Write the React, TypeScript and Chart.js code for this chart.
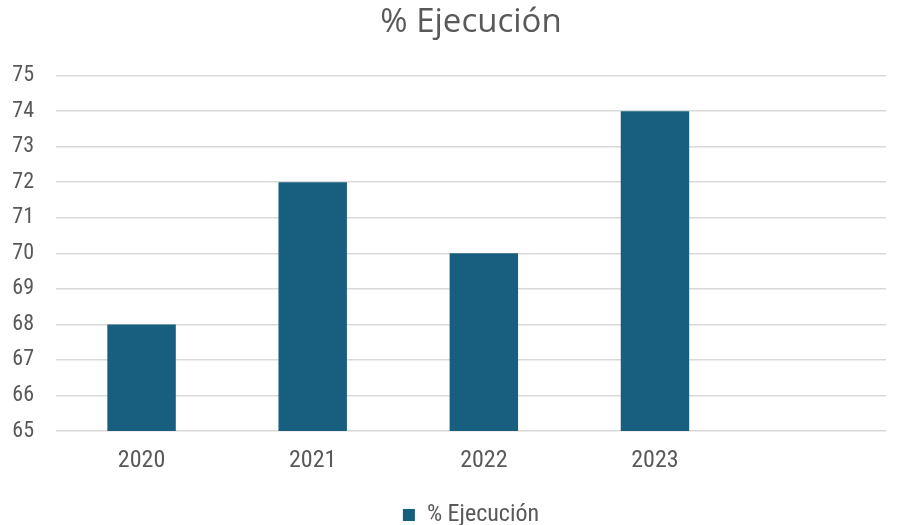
import React, { useEffect, useRef } from "react";
import { Chart, registerables } from "chart.js";

Chart.register(...registerables);

const categories: number[] = [2020, 2021, 2022, 2023];
const ejecucion: number[] = [68, 72, 70, 74];
const seriesName = "% Ejecución";
const titleText = "% Ejecución";
const yMin = 65;
const yMax = 75;
const xMin = 2019.5;
const xMax = 2024.35;

const FONT = "'Roboto Condensed', 'Liberation Sans', sans-serif";
const TITLE_FONT = "'Open Sans', 'Liberation Sans', sans-serif";
const TEXT = "#595959";
const BAR = "#175E7F";
const GRID = "#D9D9D9";

export default function App() {
  const ref = useRef<HTMLCanvasElement | null>(null);
  useEffect(() => {
    document.body.style.margin = "0";
    if (!ref.current) return;
    const chart = new Chart(ref.current, {
      type: "bar",
      data: {
        datasets: [
          {
            label: seriesName,
            data: categories.map((c, i) => ({ x: c, y: ejecucion[i] })),
            backgroundColor: BAR,
            borderWidth: 0,
            categoryPercentage: 1,
            barPercentage: 0.4,
          },
        ],
      },
      options: {
        animation: false,
        responsive: false,
        maintainAspectRatio: false,
        layout: { padding: { left: 0, right: 15, top: 0, bottom: -12 } },
        plugins: {
          title: {
            display: true,
            fullSize: false,
            text: titleText,
            color: TEXT,
            font: { family: TITLE_FONT, size: 33, weight: "normal" },
            padding: { top: 3, bottom: 33 },
          },
          legend: {
            display: true,
            fullSize: false,
            position: "bottom",
            labels: {
              color: TEXT,
              font: { family: FONT, size: 24 },
              boxWidth: 12,
              boxHeight: 12,
              padding: 0,
            },
          },
          tooltip: { enabled: false },
        },
        scales: {
          x: {
            type: "linear",
            min: xMin,
            max: xMax,
            offset: false,
            grid: { display: false },
            border: { display: false },
            afterBuildTicks: (scale: any) => {
              scale.ticks = categories.map((v) => ({ value: v }));
            },
            ticks: {
              autoSkip: false,
              color: TEXT,
              font: { family: FONT, size: 24 },
              padding: 8,
              maxRotation: 0,
              callback: (v: any) => String(v),
            },
            afterFit: (scale: any) => {
              scale.height = 72;
            },
          },
          y: {
            min: yMin,
            max: yMax,
            grid: { color: GRID, lineWidth: 1.5, drawTicks: false },
            border: { display: false },
            ticks: {
              stepSize: 1,
              color: TEXT,
              font: { family: FONT, size: 22 },
              padding: 22,
            },
            afterFit: (scale: any) => {
              scale.width = 56;
            },
          },
        },
      },
    });
    return () => chart.destroy();
  }, []);
  return (
    <div style={{ position: "absolute", left: 0, top: 0, width: 901, height: 525, background: "#fff" }}>
      <canvas ref={ref} width={901} height={525} style={{ width: 901, height: 525 }} />
    </div>
  );
}
